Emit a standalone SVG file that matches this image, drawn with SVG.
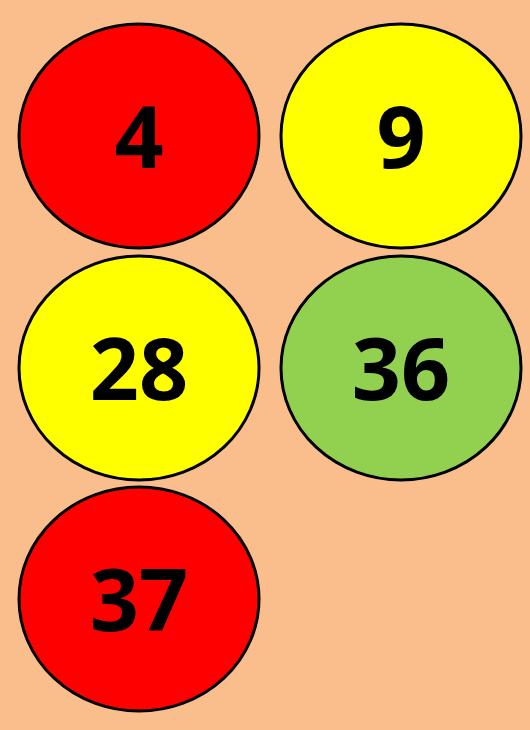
<svg xmlns="http://www.w3.org/2000/svg" width="530" height="730" viewBox="0 0 530 730">
<style>
.c{stroke:#000;stroke-width:3}
.r{fill:#FF0000}.y{fill:#FFFF00}.g{fill:#92D050}
text{font-family:"Open Sans","Liberation Sans",Arial,sans-serif;font-weight:bold;font-size:86px;fill:#000;text-anchor:middle}
</style>
<rect width="530" height="730" fill="#F9BE8B"/>
<g id="n4"><ellipse class="c r" cx="139" cy="136" rx="120" ry="112"/><text x="139" y="168">4</text></g>
<g id="n9"><ellipse class="c y" cx="401" cy="136" rx="120" ry="112"/><text x="401" y="168">9</text></g>
<g id="n28"><ellipse class="c y" cx="139" cy="368" rx="120" ry="112"/><text x="139" y="400">28</text></g>
<g id="n36"><ellipse class="c g" cx="401" cy="368" rx="120" ry="112"/><text x="401" y="400">36</text></g>
<g id="n37"><ellipse class="c r" cx="139" cy="599" rx="120" ry="112"/><text x="139" y="631">37</text></g>
<g id="connectors"/>
</svg>
